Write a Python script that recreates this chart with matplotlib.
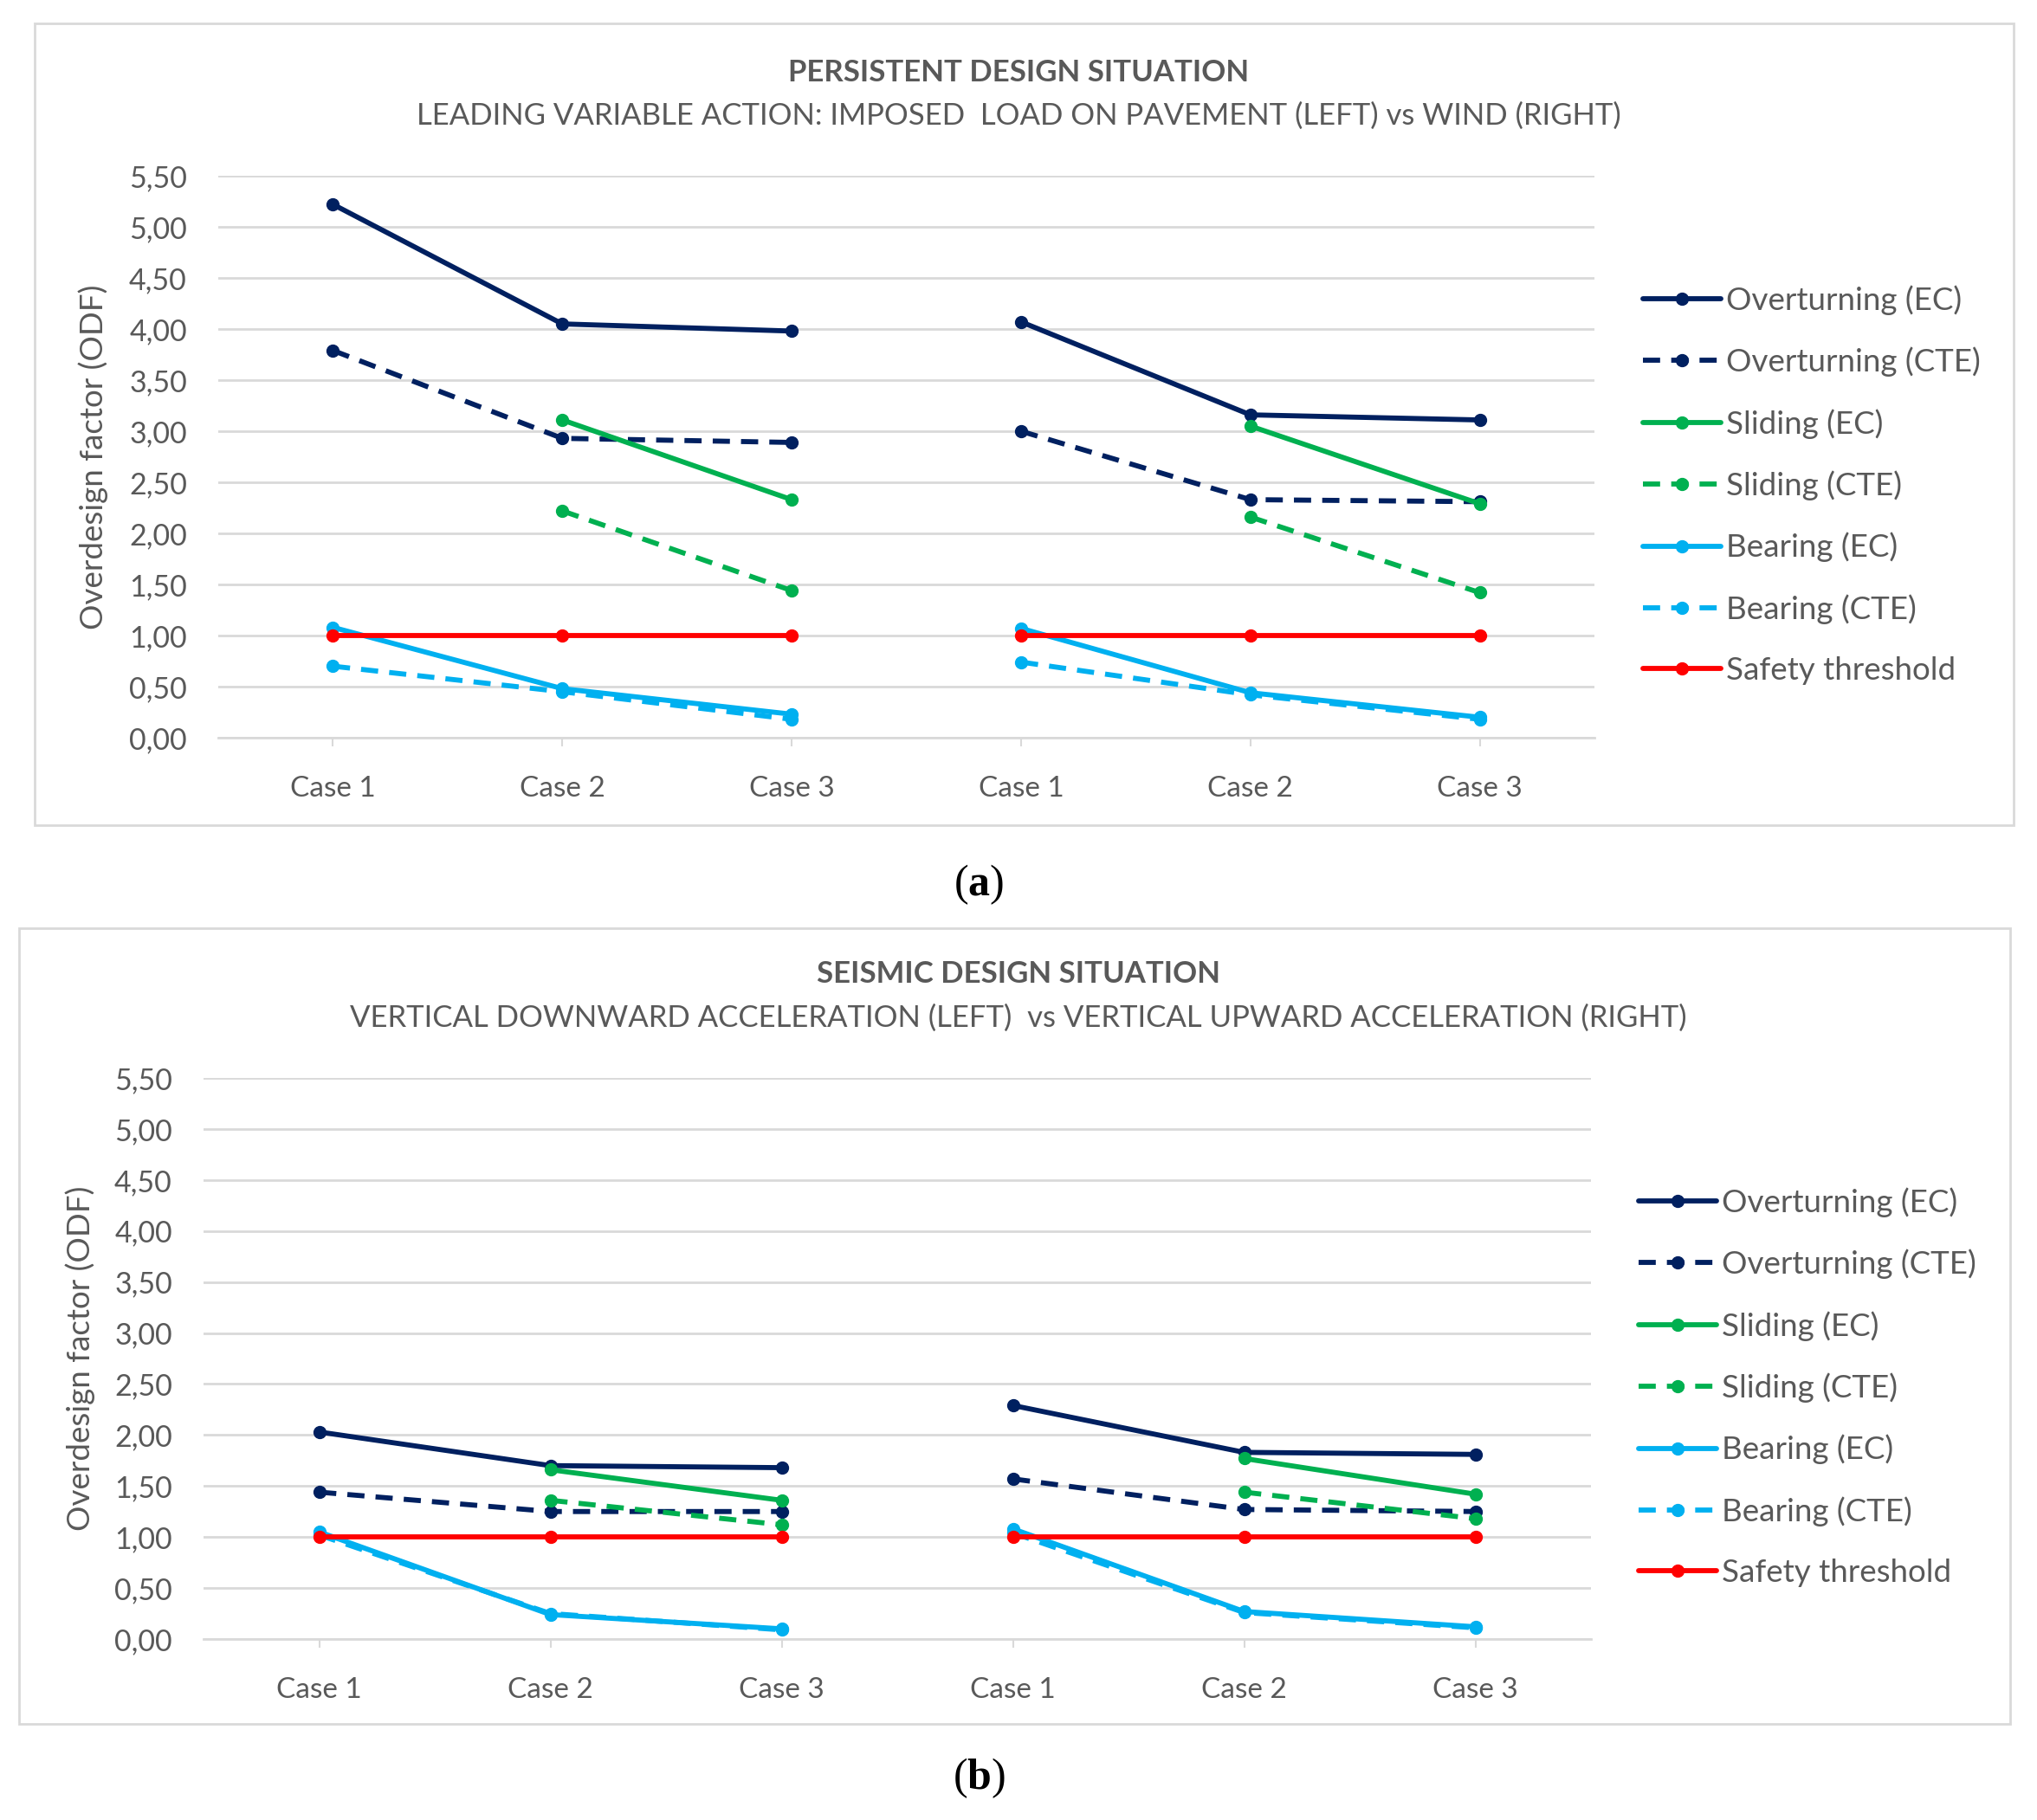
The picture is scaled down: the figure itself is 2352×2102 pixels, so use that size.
import numpy as np
import matplotlib
matplotlib.use("Agg")
import matplotlib.pyplot as plt
from matplotlib.patches import Rectangle

plt.rcParams['font.family'] = ['Lato', 'DejaVu Sans']
plt.rcParams['mathtext.fontset'] = 'custom'
plt.rcParams['mathtext.bf'] = 'Liberation Serif:bold'
plt.rcParams['mathtext.rm'] = 'Liberation Serif'

# Categories (left group | right group)
cases = ['Case 1', 'Case 2', 'Case 3', 'Case 1', 'Case 2', 'Case 3']
yticks = [0, 0.5, 1, 1.5, 2, 2.5, 3, 3.5, 4, 4.5, 5, 5.5]

series = ['Overturning (EC)', 'Overturning (CTE)', 'Sliding (EC)', 'Sliding (CTE)',
          'Bearing (EC)', 'Bearing (CTE)', 'Safety threshold']

# (a) persistent design situation
a_overturning_ec = [5.22, 4.05, 3.98, 4.07, 3.16, 3.11]
a_overturning_cte = [3.79, 2.93, 2.89, 3.00, 2.33, 2.31]
a_sliding_ec = [np.nan, 3.11, 2.33, np.nan, 3.05, 2.29]
a_sliding_cte = [np.nan, 2.22, 1.44, np.nan, 2.16, 1.42]
a_bearing_ec = [1.08, 0.48, 0.23, 1.07, 0.44, 0.20]
a_bearing_cte = [0.70, 0.45, 0.18, 0.74, 0.42, 0.18]
a_safety = [1, 1, 1, 1, 1, 1]

# (b) seismic design situation
b_overturning_ec = [2.03, 1.70, 1.68, 2.29, 1.83, 1.81]
b_overturning_cte = [1.44, 1.25, 1.25, 1.57, 1.27, 1.25]
b_sliding_ec = [np.nan, 1.66, 1.36, np.nan, 1.77, 1.42]
b_sliding_cte = [np.nan, 1.36, 1.12, np.nan, 1.44, 1.18]
b_bearing_ec = [1.05, 0.24, 0.10, 1.08, 0.27, 0.12]
b_bearing_cte = [1.02, 0.25, 0.09, 1.04, 0.26, 0.11]
b_safety = [1, 1, 1, 1, 1, 1]

colors = ['#002060', '#002060', '#00B050', '#00B050', '#00B0F0', '#00B0F0', '#FF0000']
styles = ['-', '--', '-', '--', '-', '--', '-']
grey = '#595959'

fig = plt.figure(figsize=(23.52, 21.02), dpi=100)
W, H = 2352, 2102


def box(x0, y0, x1, y1):
    fig.patches.append(Rectangle((x0 / W, 1 - y1 / H), (x1 - x0) / W, (y1 - y0) / H,
                                 transform=fig.transFigure, fill=False,
                                 edgecolor='#D9D9D9', linewidth=2))


def panel(rect, data, title, subtitle, title_y, sub_y, leg_xy, ylab_x):
    ax = fig.add_axes(rect)
    x = np.arange(len(cases))
    for vals, lab, c, ls in zip(data, series, colors, styles):
        vals = np.array(vals, dtype=float)
        for k, sl in enumerate([slice(0, 3), slice(3, 6)]):
            ax.plot(x[sl], vals[sl], color=c, linestyle=ls, linewidth=4.2,
                    marker='o', markersize=10,
                    dashes=(3.4, 2.2) if ls == '--' else (None, None),
                    label=lab if k == 0 else None, solid_capstyle='round')
    ax.set_xlim(-0.5, 5.5)
    ax.set_ylim(0, 5.5)
    ax.set_yticks(yticks)
    ax.set_yticklabels([f'{v:.2f}'.replace('.', ',') for v in yticks])
    ax.set_xticks(x)
    ax.set_xticklabels(cases)
    ax.grid(axis='y', color='#D9D9D9', linewidth=2)
    ax.set_axisbelow(True)
    for s in ['top', 'right', 'left']:
        ax.spines[s].set_visible(False)
    ax.spines['bottom'].set_color('#D9D9D9')
    ax.spines['bottom'].set_linewidth(2)
    ax.tick_params(axis='y', length=0, pad=26, labelsize=24.5, labelcolor=grey)
    ax.tick_params(axis='x', length=7, width=1.5, color='#D9D9D9', pad=25,
                   labelsize=24, labelcolor=grey)
    fig.text(ylab_x / W, rect[1] + rect[3] / 2,
             'Overdesign factor (ODF)', rotation=90, ha='center', va='center',
             fontsize=26.5, color=grey)
    fig.text(0.5, 1 - title_y / H, title, ha='center', va='center', fontsize=25,
             fontweight='bold', color=grey)
    fig.text(0.5, 1 - sub_y / H, subtitle, ha='center', va='center', fontsize=25,
             color=grey)
    leg = fig.legend(*ax.get_legend_handles_labels(), loc='upper left',
                     bbox_to_anchor=(leg_xy[0] / W, 1 - leg_xy[1] / H),
                     frameon=False, fontsize=26.5, handlelength=2.45, handletextpad=0.15,
                     labelspacing=1.0, borderpad=0, borderaxespad=0)
    for t in leg.get_texts():
        t.set_color(grey)
    return ax


box(40, 27, 2325, 953)
box(22, 1072, 2321, 1991)

panel([252 / W, 1 - 852 / H, (1841 - 252) / W, (852 - 203) / H],
      [a_overturning_ec, a_overturning_cte, a_sliding_ec, a_sliding_cte,
       a_bearing_ec, a_bearing_cte, a_safety],
      'PERSISTENT DESIGN SITUATION',
      'LEADING VARIABLE ACTION: IMPOSED  LOAD ON PAVEMENT (LEFT) vs WIND (RIGHT)',
      84, 134, (1897, 329), 108)

panel([235 / W, 1 - 1893 / H, (1837 - 235) / W, (1893 - 1245) / H],
      [b_overturning_ec, b_overturning_cte, b_sliding_ec, b_sliding_cte,
       b_bearing_ec, b_bearing_cte, b_safety],
      'SEISMIC DESIGN SITUATION',
      'VERTICAL DOWNWARD ACCELERATION (LEFT)  vs VERTICAL UPWARD ACCELERATION (RIGHT)',
      1125, 1176, (1892, 1371), 93)

fig.text(1130 / W, 1 - 1022 / H, r'($\mathbf{a}$)', ha='center', va='center',
         fontsize=36, family='Liberation Serif')
fig.text(1130 / W, 1 - 2054 / H, r'($\mathbf{b}$)', ha='center', va='center',
         fontsize=36, family='Liberation Serif')

fig.savefig('out.png', dpi=100)
